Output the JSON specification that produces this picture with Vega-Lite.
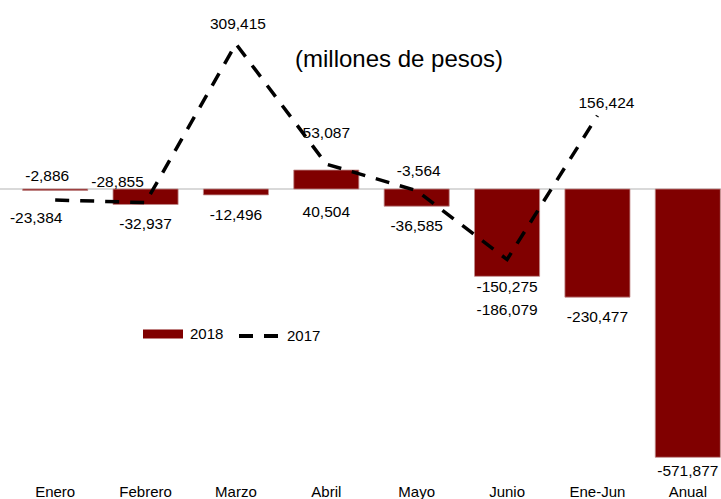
{
  "$schema": "https://vega.github.io/schema/vega-lite/v6.json",
  "width": 721,
  "height": 470,
  "autosize": {"type": "none"},
  "padding": {"left": 0, "top": 0, "right": 0, "bottom": 29},
  "background": "white",
  "title": {
    "text": "(millones de pesos)",
    "frame": "group",
    "orient": "top",
    "anchor": "start",
    "offset": 0,
    "dx": 295,
    "dy": 84,
    "baseline": "middle",
    "font": "Liberation Sans",
    "fontSize": 24,
    "fontWeight": "normal",
    "color": "black"
  },
  "config": {
    "view": {"stroke": null},
    "locale": {"number": {"decimal": ".", "thousands": ",", "grouping": [3], "currency": ["$", ""], "minus": "-"}},
    "text": {"font": "Liberation Sans", "fontSize": 15.5, "color": "black", "baseline": "middle"},
    "legend": {"labelFont": "Liberation Sans", "labelFontSize": 15, "labelColor": "black"}
  },
  "data": {
    "values": [
      {"mes": "Enero", "v2018": -2886, "v2017": -23384},
      {"mes": "Febrero", "v2018": -32937, "v2017": -28855},
      {"mes": "Marzo", "v2018": -12496, "v2017": 309415},
      {"mes": "Abril", "v2018": 40504, "v2017": 53087},
      {"mes": "Mayo", "v2018": -36585, "v2017": -3564},
      {"mes": "Junio", "v2018": -186079, "v2017": -150275},
      {"mes": "Ene-Jun", "v2018": -230477, "v2017": 156424},
      {"mes": "Anual", "v2018": -571877, "v2017": null}
    ]
  },
  "layer": [
    {
      "mark": {"type": "rule", "color": "#d9d9d9", "strokeWidth": 1.5},
      "encoding": {"y": {"datum": 0, "type": "quantitative", "scale": {"domain": [-599000, 403000], "nice": false, "zero": false}, "axis": null}}
    },
    {
      "mark": {"type": "bar", "stroke": "#c08a8a", "strokeWidth": 0.8},
      "encoding": {
        "x": {"field": "mes", "type": "nominal", "sort": null,
              "scale": {"range": [10, 733], "paddingInner": 0.28, "paddingOuter": 0.14},
              "axis": {"title": null, "domain": false, "ticks": false, "labelPadding": 14, "labelFont": "Liberation Sans", "labelFontSize": 15, "labelColor": "black", "labelAngle": 0}},
        "y": {"field": "v2018", "type": "quantitative", "scale": {"domain": [-599000, 403000], "nice": false, "zero": false}, "axis": null},
        "color": {"datum": "2018", "scale": {"range": ["#800000"]},
                  "legend": {"orient": "none", "legendX": 143, "legendY": 314, "direction": "horizontal", "title": null, "padding": 0,
                             "symbolType": "M-1,-0.22H1V0.22H-1Z", "symbolSize": 1600, "symbolStrokeWidth": 0, "labelOffset": 7}}
      }
    },
    {
      "mark": {"type": "line", "color": "black", "strokeWidth": 3.5},
      "encoding": {
        "x": {"field": "mes", "type": "nominal", "sort": null},
        "y": {"field": "v2017", "type": "quantitative"},
        "strokeDash": {"datum": "2017", "scale": {"range": [[14, 11]]},
                       "legend": {"orient": "none", "legendX": 237, "legendY": 314, "direction": "horizontal", "title": null, "padding": 0,
                                  "symbolType": "stroke", "symbolSize": 1600, "symbolStrokeColor": "black", "symbolStrokeWidth": 4, "labelOffset": 6}}
      }
    },
    {
      "transform": [{"filter": {"field": "mes", "oneOf": ["Febrero", "Marzo", "Mayo", "Ene-Jun"]}}],
      "mark": {"type": "text", "dy": 20},
      "encoding": {"x": {"field": "mes", "type": "nominal", "sort": null}, "y": {"field": "v2018", "type": "quantitative"}, "text": {"field": "v2018", "format": ",d"}}
    },
    {
      "transform": [{"filter": {"field": "mes", "equal": "Anual"}}],
      "mark": {"type": "text", "dy": 14},
      "encoding": {"x": {"field": "mes", "type": "nominal", "sort": null}, "y": {"field": "v2018", "type": "quantitative"}, "text": {"field": "v2018", "format": ",d"}}
    },
    {
      "transform": [{"filter": {"field": "mes", "equal": "Junio"}}],
      "mark": {"type": "text", "dy": 34},
      "encoding": {"x": {"field": "mes", "type": "nominal", "sort": null}, "y": {"field": "v2018", "type": "quantitative"}, "text": {"field": "v2018", "format": ",d"}}
    },
    {
      "transform": [{"filter": {"field": "mes", "equal": "Enero"}}],
      "mark": {"type": "text", "dy": -14, "dx": -8},
      "encoding": {"x": {"field": "mes", "type": "nominal", "sort": null}, "y": {"field": "v2018", "type": "quantitative"}, "text": {"field": "v2018", "format": ",d"}}
    },
    {
      "transform": [{"filter": {"field": "mes", "equal": "Abril"}}],
      "mark": {"type": "text", "dy": 42},
      "encoding": {"x": {"field": "mes", "type": "nominal", "sort": null}, "y": {"field": "v2018", "type": "quantitative"}, "text": {"field": "v2018", "format": ",d"}}
    },
    {
      "transform": [{"filter": {"field": "mes", "oneOf": ["Marzo", "Mayo"]}}],
      "mark": {"type": "text", "dy": -20, "dx": 2},
      "encoding": {"x": {"field": "mes", "type": "nominal", "sort": null}, "y": {"field": "v2017", "type": "quantitative"}, "text": {"field": "v2017", "format": ",d"}}
    },
    {
      "transform": [{"filter": {"field": "mes", "equal": "Febrero"}}],
      "mark": {"type": "text", "dy": -21, "dx": -28},
      "encoding": {"x": {"field": "mes", "type": "nominal", "sort": null}, "y": {"field": "v2017", "type": "quantitative"}, "text": {"field": "v2017", "format": ",d"}}
    },
    {
      "transform": [{"filter": {"field": "mes", "equal": "Abril"}}],
      "mark": {"type": "text", "dy": -31},
      "encoding": {"x": {"field": "mes", "type": "nominal", "sort": null}, "y": {"field": "v2017", "type": "quantitative"}, "text": {"field": "v2017", "format": ",d"}}
    },
    {
      "transform": [{"filter": {"field": "mes", "equal": "Ene-Jun"}}],
      "mark": {"type": "text", "dy": -13, "dx": 9},
      "encoding": {"x": {"field": "mes", "type": "nominal", "sort": null}, "y": {"field": "v2017", "type": "quantitative"}, "text": {"field": "v2017", "format": ",d"}}
    },
    {
      "transform": [{"filter": {"field": "mes", "equal": "Enero"}}],
      "mark": {"type": "text", "dy": 18, "dx": -19},
      "encoding": {"x": {"field": "mes", "type": "nominal", "sort": null}, "y": {"field": "v2017", "type": "quantitative"}, "text": {"field": "v2017", "format": ",d"}}
    },
    {
      "transform": [{"filter": {"field": "mes", "equal": "Junio"}}],
      "mark": {"type": "text", "dy": 27},
      "encoding": {"x": {"field": "mes", "type": "nominal", "sort": null}, "y": {"field": "v2017", "type": "quantitative"}, "text": {"field": "v2017", "format": ",d"}}
    }
  ]
}
